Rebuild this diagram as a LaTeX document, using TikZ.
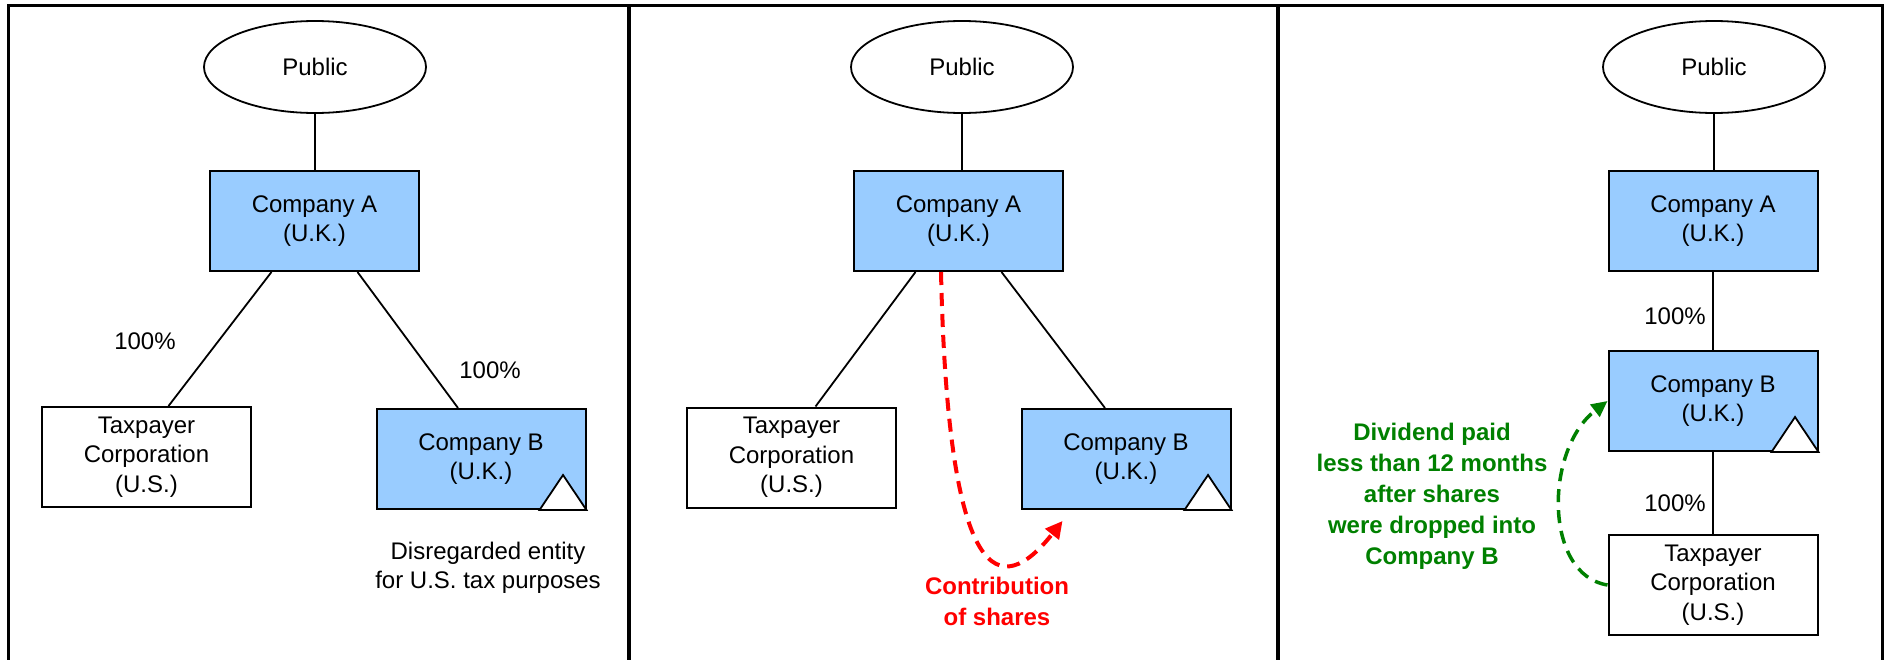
\documentclass[tikz,border=0pt]{standalone}
\usepackage{fontspec}
\setmainfont{Liberation Sans}
\usetikzlibrary{shapes.geometric,arrows.meta,calc}
\definecolor{boxblue}{RGB}{153,204,255}
\definecolor{divgreen}{RGB}{0,128,0}
\begin{document}
\begin{tikzpicture}[x=1pt,y=-1pt,
  txt/.style={font=\fontsize{24}{29.5}\selectfont, align=center},
  pub/.style={txt, ellipse, draw, line width=1.8pt, minimum width=222pt, minimum height=92pt, inner sep=0pt},
  ukbox/.style={txt, draw, line width=2pt, fill=boxblue, minimum width=209pt, minimum height=100pt, inner sep=0pt},
  usbox/.style={txt, draw, line width=2pt, fill=white, minimum width=209pt, minimum height=100pt, inner sep=0pt},
  link/.style={line width=1.8pt},
  framing/.style={line width=3.5pt},
  pct/.style={txt},
  note/.style={align=center, font=\fontsize{24}{31}\selectfont\bfseries},
  marker/.style={draw, fill=white, line width=1.8pt, line join=miter},
  redarr/.style={red, line width=4pt, dash pattern=on 13pt off 8pt, -{Triangle[length=17pt,width=17pt]}},
  grnarr/.style={divgreen, line width=3.5pt, dash pattern=on 13pt off 8pt, -{Triangle[length=16pt,width=15pt]}}
]
\useasboundingbox (0,0) rectangle (1889,659);
% frame
\draw[framing] (8.5,700) -- (8.5,5.5) -- (1882.5,5.5) -- (1882.5,700);
\draw[framing] (629,5.5) -- (629,700);
\draw[framing] (1278,5.5) -- (1278,700);

% ---------- panel 1 ----------
\node[pub] (P1) at (315,67) {Public};
\node[ukbox] (A1) at (314.5,221) {Company A\\(U.K.)};
\node[usbox] (T1) at (146.5,457) {Taxpayer\\Corporation\\(U.S.)};
\node[ukbox] (B1) at (481,459) {Company B\\(U.K.)};
\draw[link] (P1.south) -- (P1.south |- A1.north);
\draw[link] ($(A1.south)+(-43,0)$) -- ($(T1.north)+(22,0)$);
\draw[link] ($(A1.south)+(43,0)$) -- ($(B1.north)+(-23,0)$);
\draw[marker] (B1.south east) -- ++(-47,0) -- ++(23.5,-35) -- cycle;
\node[pct] (p1a) at (145,341) {100\%};
\node[pct] (p1b) at (490,370) {100\%};
\node[txt] (dis) at (488,568) {Disregarded entity\\for U.S. tax purposes};

% ---------- panel 2 ----------
\node[pub] (P2) at (962,67) {Public};
\node[ukbox] (A2) at (958.5,221) {Company A\\(U.K.)};
\node[usbox] (T2) at (791.5,457.5) {Taxpayer\\Corporation\\(U.S.)};
\node[ukbox] (B2) at (1126,459) {Company B\\(U.K.)};
\draw[link] (P2.south) -- (P2.south |- A2.north);
\draw[link] ($(A2.south)+(-43,0)$) -- ($(T2.north)+(24,0)$);
\draw[link] ($(A2.south)+(43,0)$) -- ($(B2.north)+(-21,0)$);
\draw[marker] (B2.south east) -- ++(-47,0) -- ++(23.5,-35) -- cycle;
\coordinate (rs) at ($(A2.south)+(-17.5,0)$);
\coordinate (re) at ($(B2.south west)+(42,11)$);
\draw[redarr] (rs) .. controls (948,590) and (1000,600) .. (re);
\node[note, text=red] (con) at (997,601) {Contribution\\of shares};

% ---------- panel 3 ----------
\node[pub] (P3) at (1714,67) {Public};
\node[ukbox] (A3) at (1713,221) {Company A\\(U.K.)};
\node[ukbox] (B3) at (1713,401) {Company B\\(U.K.)};
\node[usbox] (T3) at (1713,585) {Taxpayer\\Corporation\\(U.S.)};
\draw[link] (P3.south) -- (P3.south |- A3.north);
\draw[link] (A3.south) -- (B3.north);
\draw[link] (B3.south) -- (T3.north);
\draw[marker] (B3.south east) -- ++(-47,0) -- ++(23.5,-35) -- cycle;
\node[pct] (p3a) at (1675,316) {100\%};
\node[pct] (p3b) at (1675,503) {100\%};
\draw[grnarr] (T3.west) .. controls (1544,575) and (1544,450) .. (B3.west);
\node[note, text=divgreen] (div) at (1432,496) {Dividend paid\\less than 12 months\\after shares\\were dropped into\\Company B};
\end{tikzpicture}
\end{document}
